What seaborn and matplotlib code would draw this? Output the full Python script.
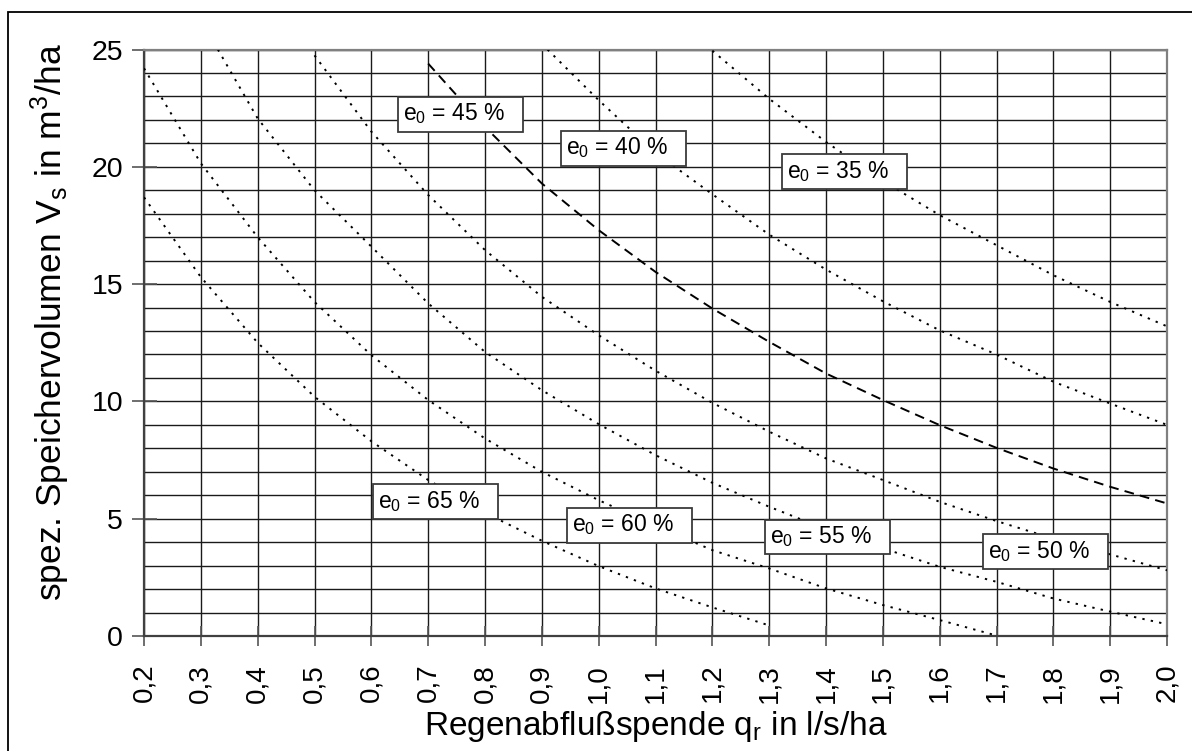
import numpy as np
import pandas as pd
import matplotlib
matplotlib.use("Agg")
import matplotlib.pyplot as plt
import seaborn as sns
from matplotlib.patches import Rectangle

# ---- data ----
q65 = [0.2, 0.3, 0.4, 0.5, 0.6, 0.7, 0.8, 0.9, 1.0, 1.1, 1.2, 1.3]
v65 = [18.7, 15.3, 12.5, 10.2, 8.3, 6.65, 5.25, 4.06, 2.98, 2.03, 1.22, 0.45]

q60 = [0.2, 0.3, 0.4, 0.5, 0.6, 0.7, 0.8, 0.9, 1.0, 1.1, 1.2, 1.3, 1.4, 1.5, 1.6, 1.7]
v60 = [24.2, 20.15, 17.0, 14.24, 11.97, 10.06, 8.42, 7.0, 5.79, 4.7, 3.66, 2.88, 2.03, 1.32, 0.68, 0.02]

q55 = [0.33, 0.4, 0.5, 0.6, 0.7, 0.8, 0.9, 1.0, 1.1, 1.2, 1.3, 1.4, 1.5, 1.6, 1.7, 1.8, 1.9, 2.0]
v55 = [25.0, 22.06, 19.0, 16.6, 14.18, 12.11, 10.48, 9.03, 7.71, 6.53, 5.51, 4.55, 3.74, 2.95, 2.31, 1.6, 1.04, 0.5]

q50 = [0.5, 0.6, 0.7, 0.8, 0.9, 1.0, 1.1, 1.2, 1.3, 1.4, 1.5, 1.6, 1.7, 1.8, 1.9, 2.0]
v50 = [24.75, 21.5, 18.8, 16.45, 14.46, 12.82, 11.31, 9.94, 8.71, 7.57, 6.65, 5.72, 4.9, 4.15, 3.48, 2.8]

q45 = [0.7, 0.8, 0.9, 1.0, 1.1, 1.2, 1.3, 1.4, 1.5, 1.6, 1.7, 1.8, 1.9, 2.0]
v45 = [24.4, 21.7, 19.29, 17.3, 15.52, 13.96, 12.54, 11.19, 10.06, 8.99, 8.02, 7.14, 6.36, 5.65]

q40 = [0.91, 1.0, 1.1, 1.2, 1.3, 1.4, 1.5, 1.6, 1.7, 1.8, 1.9, 2.0]
v40 = [25.0, 22.84, 20.6, 18.83, 17.11, 15.62, 14.27, 13.03, 12.0, 10.84, 9.91, 9.0]

q35 = [1.2, 1.3, 1.4, 1.5, 1.6, 1.7, 1.8, 1.9, 2.0]
v35 = [24.95, 22.9, 21.06, 19.4, 17.94, 16.66, 15.38, 14.24, 13.2]

series_names = ["65", "60", "55", "50", "45", "40", "35"]
x_ticks = [0.2, 0.3, 0.4, 0.5, 0.6, 0.7, 0.8, 0.9, 1.0, 1.1, 1.2, 1.3, 1.4, 1.5, 1.6, 1.7, 1.8, 1.9, 2.0]
x_tick_labels = ["0,2", "0,3", "0,4", "0,5", "0,6", "0,7", "0,8", "0,9", "1,0", "1,1",
                 "1,2", "1,3", "1,4", "1,5", "1,6", "1,7", "1,8", "1,9", "2,0"]
y_ticks = [0, 5, 10, 15, 20, 25]

# label anchor positions (left edge of text, vertical centre) in data units
label_pos = {"45": (0.655, 22.25), "40": (0.942, 20.8), "35": (1.331, 19.8),
             "65": (0.611, 5.75), "60": (0.953, 4.73), "55": (1.301, 4.22),
             "50": (1.685, 3.6)}

# ---- build long-form data ----
all_q = [q65, q60, q55, q50, q45, q40, q35]
all_v = [v65, v60, v55, v50, v45, v40, v35]
frames = []
for name, qs, vs in zip(series_names, all_q, all_v):
    frames.append(pd.DataFrame({"q": qs, "V": vs, "e0": name}))
df = pd.concat(frames, ignore_index=True)

sns.set_style("white")
plt.rcParams["font.family"] = ["Liberation Sans", "DejaVu Sans"]
plt.rcParams["mathtext.fontset"] = "custom"
plt.rcParams["mathtext.rm"] = "Liberation Sans"
plt.rcParams["mathtext.it"] = "Liberation Sans:italic"
plt.rcParams["mathtext.default"] = "regular"
plt.rcParams["text.color"] = "black"
plt.rcParams["axes.labelcolor"] = "black"
plt.rcParams["xtick.color"] = "black"
plt.rcParams["ytick.color"] = "black"

W, H = 1192, 751
fig = plt.figure(figsize=(W / 100, H / 100), dpi=100)
ax = fig.add_axes([144 / W, 1 - 636 / H, (1167 - 144) / W, (636 - 49.5) / H])

dotted = (1.2, 3.2)
dashed = (5.0, 3.2)
dash_map = {n: (dashed if n == "45" else dotted) for n in series_names}
pal = {n: "black" for n in series_names}

sns.lineplot(data=df, x="q", y="V", hue="e0", style="e0", units="e0",
             estimator=None, sort=False, palette=pal, dashes=dash_map,
             linewidth=1.4, legend=False, ax=ax, zorder=3)

ax.set_xlim(0.2, 2.0)
ax.set_ylim(0, 25)
ax.set_xticks(x_ticks)
ax.set_xticklabels(x_tick_labels, rotation=90, fontsize=20)
ax.set_yticks(y_ticks)
ax.set_yticklabels([str(t) for t in y_ticks], fontsize=20.5)
ax.set_yticks(np.arange(0, 26, 1), minor=True)

ax.xaxis.grid(True, which="major", color="#1a1a1a", linewidth=1.0)
ax.yaxis.grid(True, which="both", color="#1a1a1a", linewidth=1.0)
ax.set_axisbelow(True)

ax.tick_params(axis="y", which="major", direction="inout", length=18, width=1.2,
               color="#555555", labelcolor="black", pad=6, left=True)
ax.tick_params(axis="x", which="major", direction="inout", length=14, width=1.2,
               color="#555555", labelcolor="black", pad=13, bottom=True)
ax.tick_params(which="minor", length=0)

for side in ["top", "right", "left", "bottom"]:
    ax.spines[side].set_visible(True)
    ax.spines[side].set_color("#808080")
    ax.spines[side].set_linewidth(1.6)
ax.spines["left"].set_color("#404040")
ax.spines["bottom"].set_color("#404040")

ax.set_xlabel(r"Regenabflußspende q$_{r}$ in l/s/ha", fontsize=24)
ax.set_ylabel(r"spez. Speichervolumen V$_{s}$ in m$^{3}$/ha", fontsize=25.5)
ax.xaxis.set_label_coords(0.5, -0.155)
ax.yaxis.set_label_coords(-0.092, 0.535)
ax.yaxis.label.set_va("center")
ax.xaxis.label.set_va("center")

for name, (lx, ly) in label_pos.items():
    ax.text(lx, ly, r"e$_{0}$ = " + name + " %   ", fontsize=16.5, ha="left",
            va="center", zorder=5, color="black",
            bbox=dict(boxstyle="square,pad=0.22", facecolor="white",
                      edgecolor="#3a3a3a", linewidth=1.3))

# outer frame of the original drawing
fig.patches.append(Rectangle((8 / W, -0.2), 1.5, 1.2 - 12 / H,
                             transform=fig.transFigure, fill=False,
                             edgecolor="black", linewidth=1.3))

fig.savefig("out.png", dpi=100)
